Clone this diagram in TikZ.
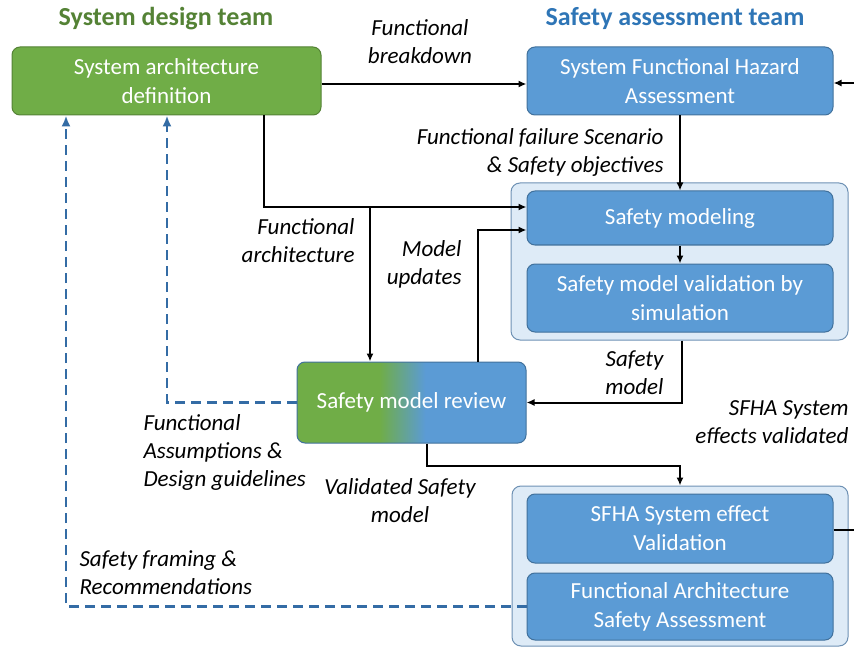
\documentclass[tikz,border=0pt]{standalone}
\usepackage{fontspec}
\setmainfont{Carlito}
\usepackage{tikz}
\usetikzlibrary{arrows.meta}
\definecolor{designgreen}{RGB}{112,173,71}
\definecolor{designborder}{RGB}{84,130,53}
\definecolor{safetyblue}{RGB}{91,155,213}
\definecolor{safetyborder}{RGB}{65,113,156}
\definecolor{groupborder}{RGB}{110,145,180}
\definecolor{titlegreen}{RGB}{84,130,53}
\definecolor{titleblue}{RGB}{46,117,182}
\definecolor{groupfill}{RGB}{222,235,247}
\definecolor{feedbackblue}{RGB}{52,108,165}
\pgfdeclarehorizontalshading{reviewshade}{100bp}{color(0bp)=(designgreen); color(43bp)=(designgreen); color(53bp)=(safetyblue); color(100bp)=(safetyblue)}

\begin{document}
\begin{tikzpicture}[x=1pt,y=-1pt,
  boxtext/.style={text=white,font=\fontsize{23}{29}\selectfont,align=center},
  greenbox/.style={boxtext,fill=designgreen,draw=designborder,line width=1pt,rounded corners=8pt},
  bluebox/.style={boxtext,fill=safetyblue,draw=safetyborder,line width=1pt,rounded corners=8pt},
  groupbox/.style={fill=groupfill,draw=groupborder,line width=1pt,rounded corners=9pt},
  flowlabel/.style={font=\fontsize{23}{28}\selectfont\itshape},
  arr/.style={line width=2pt,-{Latex[length=8pt,width=7pt]}},
  dasharr/.style={feedbackblue,line width=2.3pt,dash pattern=on 10pt off 6pt,-{Latex[length=11pt,width=9pt]}}]
\useasboundingbox (0,0) rectangle (854,647);
% Team titles
\node[font=\fontsize{26}{30}\selectfont\bfseries,text=titlegreen] (designteam) at (166,19) {System design team};
\node[font=\fontsize{26}{30}\selectfont\bfseries,text=titleblue] (safetyteam) at (675,19) {Safety assessment team};
% Group boxes
\node[groupbox,minimum width=337pt,minimum height=157pt] (grpmodel) at (679.5,261.5) {};
\node[groupbox,minimum width=336pt,minimum height=160pt] (grpvalid) at (680,566) {};
% Activity boxes
\node[greenbox,minimum width=309pt,minimum height=68pt] (sad) at (166.5,81) {System architecture\\definition};
\node[bluebox,minimum width=306pt,minimum height=68pt] (sfha) at (680,81) {System Functional Hazard\\Assessment};
\node[bluebox,minimum width=306pt,minimum height=54pt] (model) at (680,218) {Safety modeling};
\node[bluebox,minimum width=306pt,minimum height=68pt] (simval) at (680,298) {Safety model validation by\\simulation};
\node[boxtext,shading=reviewshade,draw=safetyborder,line width=1pt,rounded corners=8pt,minimum width=229pt,minimum height=81pt] (review) at (411.5,402.5) {Safety model review};
\node[bluebox,minimum width=306pt,minimum height=69pt] (effval) at (680,528.5) {SFHA System effect\\Validation};
\node[bluebox,minimum width=306pt,minimum height=67pt] (fasa) at (680,606.5) {Functional Architecture\\Safety Assessment};
% Free ends on the right border
\coordinate (rightin) at (854,83);
\coordinate (rightout) at (854,530);
\coordinate (archjoin) at (370,207);
% Solid connectors
\draw[arr] ([yshift=-3pt]sad.east) -- ([yshift=-3pt]sfha.west);
\draw[arr] (rightin) -- (rightin -| sfha.east);
\draw[arr] (sfha.south) -- (model.north);
\draw[arr] ([xshift=97pt]sad.south) |- ([yshift=11pt]model.west);
\draw[arr] (archjoin) -- (archjoin |- review.north);
\draw[arr] ([xshift=66.5pt]review.north) |- ([yshift=-12pt]model.west);
\draw[arr] (model.south) -- (simval.north);
\draw[arr] ([xshift=2pt]grpmodel.south) |- (review.east);
\draw[arr] ([xshift=15.5pt]review.south) -- ++(0,22) -| (grpvalid.north);
\draw[line width=2pt] (rightout -| effval.east) -- (rightout);
% Feedback connectors
\draw[dasharr] (review.west) -| ([xshift=0.5pt]sad.south);
\draw[dasharr] (fasa.west) -| ([xshift=-100.5pt]sad.south);
% Labels
\node[flowlabel,align=center] (lblbreak) at (420,41.5) {Functional\\breakdown};
\node[flowlabel,align=right,anchor=east] (lblscen) at (667,152) {Functional failure Scenario\\\& Safety objectives};
\node[flowlabel,align=right,anchor=east] (lblarch) at (358,241) {Functional\\architecture};
\node[flowlabel,align=right,anchor=east] (lblupd) at (465,264) {Model\\updates};
\node[flowlabel,align=right,anchor=east] (lblmodel) at (667,373) {Safety\\model};
\node[flowlabel,align=right,anchor=east] (lbleffect) at (852,422) {SFHA System\\effects validated};
\node[flowlabel,align=center] (lblvalid) at (400,501) {Validated Safety\\model};
\node[flowlabel,align=left,anchor=west] (lblassum) at (140,452) {Functional\\Assumptions \&\\Design guidelines};
\node[flowlabel,align=left,anchor=west] (lblframe) at (76,573) {Safety framing \&\\Recommendations};
\end{tikzpicture}
\end{document}
